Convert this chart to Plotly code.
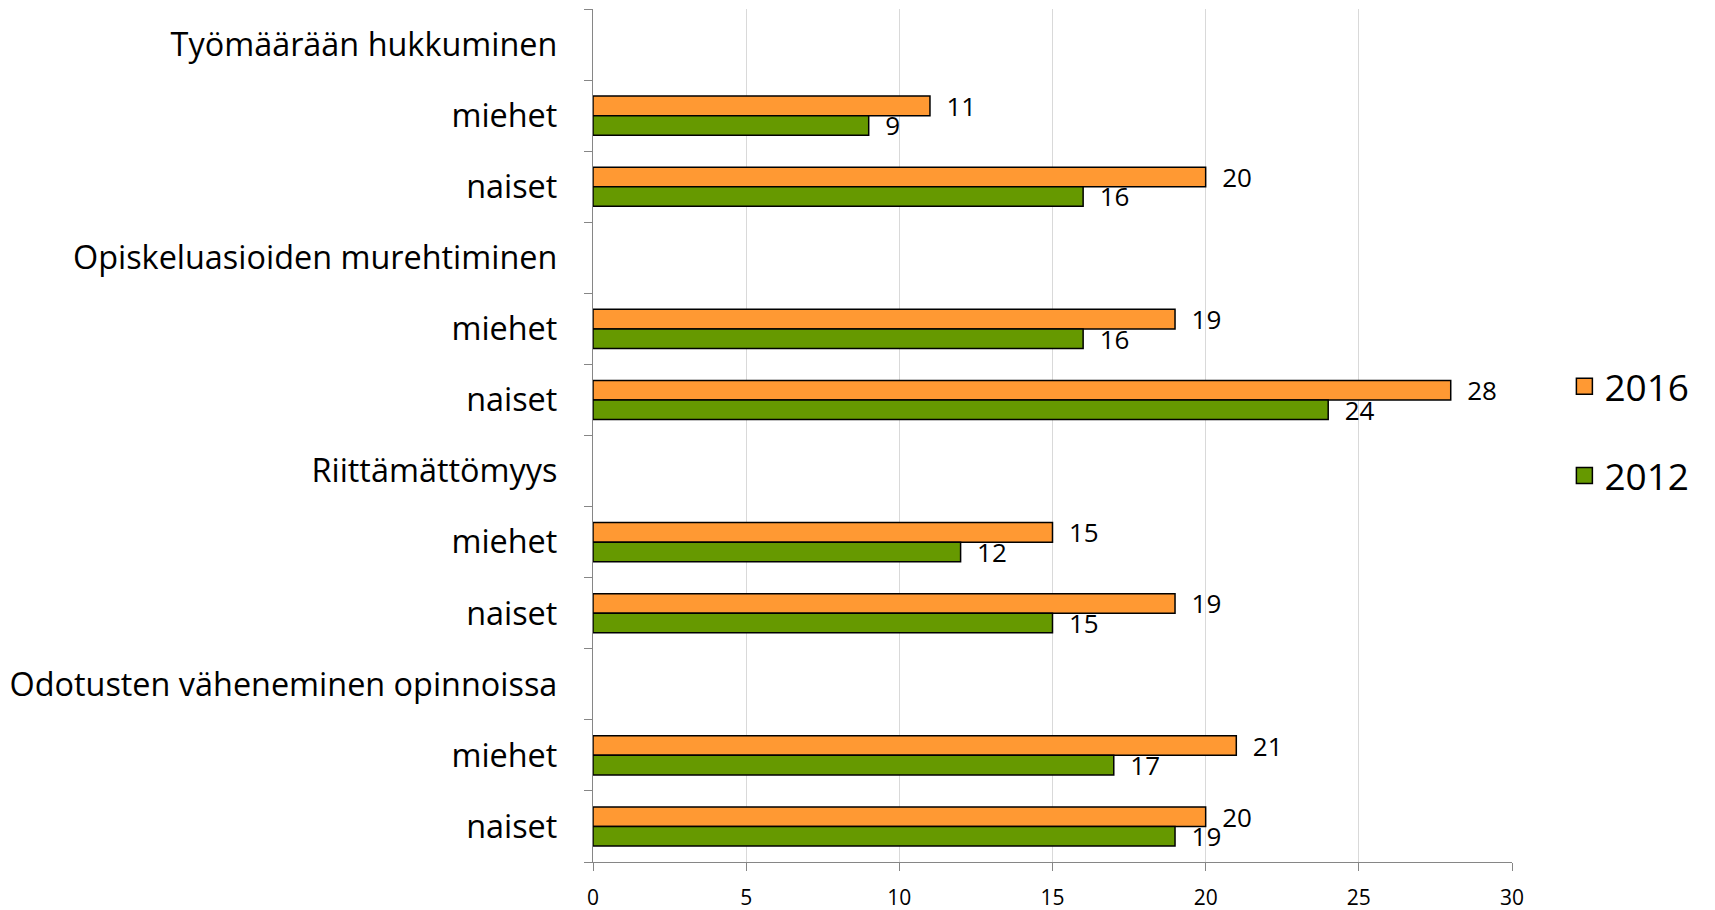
import plotly.graph_objects as go

labels = ["Työmäärään hukkuminen", "miehet", "naiset",
          "Opiskeluasioiden murehtiminen", "miehet", "naiset",
          "Riittämättömyys", "miehet", "naiset",
          "Odotusten väheneminen opinnoissa", "miehet", "naiset"]
v2016 = [None, 11, 20, None, 19, 28, None, 15, 19, None, 21, 20]
v2012 = [None, 9, 16, None, 16, 24, None, 12, 15, None, 17, 19]
series = [("2016", v2016, "#FF9933"), ("2012", v2012, "#669900")]
x_ticks = [0, 5, 10, 15, 20, 25, 30]

FONT = "Open Sans"
pos = list(range(len(labels)))

fig = go.Figure()
for i, (name, vals, col) in enumerate(series):
    fig.add_trace(go.Bar(
        name=name, y=pos, x=vals, orientation="h",
        marker=dict(color=col, line=dict(color="#000000", width=1.5)),
        text=["\u00a0\u00a0" + str(v) if v is not None else "" for v in vals],
        textposition="outside", constraintext="none", cliponaxis=False,
        textfont=dict(family=FONT, size=26, color="#000000"),
        legendgroup=name, showlegend=False,
    ))
# legend entries with larger square swatches
for name, vals, col in series:
    fig.add_trace(go.Scatter(
        name=name, x=[None], y=[None], mode="markers",
        marker=dict(symbol="square", size=18, color=col,
                    line=dict(color="#000000", width=1.5)),
        legendgroup=name, showlegend=True, hoverinfo="skip",
    ))

fig.update_layout(
    width=1707, height=902,
    margin=dict(l=585, r=203, t=1, b=48, autoexpand=False),
    paper_bgcolor="white", plot_bgcolor="white",
    barmode="group", bargap=0.45, bargroupgap=0,
    font=dict(family=FONT, color="#000000"),
    legend=dict(x=1.057, xanchor="left", y=0.505, yanchor="middle",
                font=dict(family=FONT, size=37), traceorder="grouped",
                tracegroupgap=38, bgcolor="rgba(0,0,0,0)", itemsizing="trace"),
    xaxis=dict(range=[0, 30], tickvals=x_ticks, showgrid=True, gridcolor="#D9D9D9",
               gridwidth=1, showline=True, linecolor="#868686", linewidth=1.3,
               ticks="outside", ticklen=8, tickcolor="#868686", zeroline=False,
               tickfont=dict(family=FONT, size=21, color="#000000"),
               ticklabelstandoff=9, automargin=False),
    yaxis=dict(range=[11.5, -0.5], tickvals=pos, ticktext=labels, ticks="",
               showline=True, linecolor="#868686", linewidth=1.3, showgrid=False,
               zeroline=False, tickfont=dict(family=FONT, size=32.4, color="#000000"),
               ticklabelstandoff=28, automargin=False,
               minor=dict(tickvals=[p - 0.5 for p in pos] + [len(pos) - 0.5],
                          ticks="outside", ticklen=8, tickcolor="#868686",
                          tickwidth=1.3, showgrid=False)),
)

fig.write_html("out.html")
